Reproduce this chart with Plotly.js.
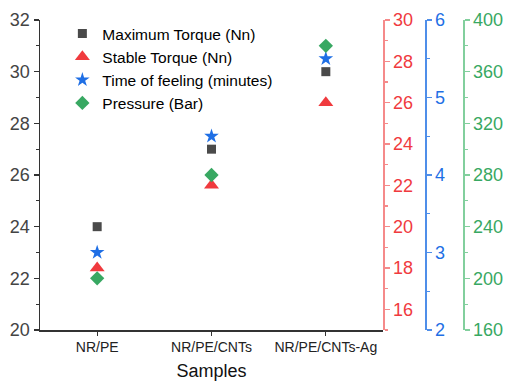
<!DOCTYPE html>
<html>
<head>
<meta charset="utf-8">
<script src="https://cdn.plot.ly/plotly-3.0.1.min.js"></script>
<style>html,body{margin:0;padding:0;background:#fff;}#chart{width:506px;height:381px;}</style>
</head>
<body>
<div id="chart"></div>
<script>
const categories = ["NR/PE", "NR/PE/CNTs", "NR/PE/CNTs-Ag"];
const maxTorque = [24, 27, 30];
const stableTorque = [18, 22, 26];
const timeOfFeeling = [3, 4.5, 5.5];
const pressure = [200, 280, 380];
const seriesNames = ["Maximum Torque (Nn)", "Stable Torque (Nn)", "Time of feeling (minutes)", "Pressure (Bar)"];

const cDark = "#4a4a4a", cRed = "#f03a3e", cBlue = "#1f6fe5", cGreen = "#38a862";
const FONT = "Liberation Sans, Arial, sans-serif";

const traces = [
  {x: categories, y: maxTorque, name: seriesNames[0], type: "scatter", mode: "markers",
   marker: {symbol: "square", size: 9, color: cDark}, yaxis: "y"},
  {x: categories, y: stableTorque, name: seriesNames[1], type: "scatter", mode: "markers",
   marker: {symbol: "triangle-up", size: 13, color: cRed}, yaxis: "y2"},
  {x: categories, y: timeOfFeeling, name: seriesNames[2], type: "scatter", mode: "markers",
   marker: {symbol: "star", size: 11, color: cBlue}, yaxis: "y3"},
  {x: categories, y: pressure, name: seriesNames[3], type: "scatter", mode: "markers",
   marker: {symbol: "diamond", size: 11, color: cGreen}, yaxis: "y4"}
];

const W = 466;
const dEnd = (383 - 40) / W;

const layout = {
  width: 506, height: 381,
  margin: {l: 40, r: 0, t: 20, b: 51},
  paper_bgcolor: "#fff", plot_bgcolor: "#fff",
  font: {family: FONT, color: "#000"},
  showlegend: true,
  legend: {x: 0.048, y: 1.01, xanchor: "left", yanchor: "top", bgcolor: "rgba(0,0,0,0)",
           font: {family: FONT, size: 15.5, color: "#000"}, tracegroupgap: 0},
  xaxis: {
    type: "category", domain: [0, dEnd], range: [-0.5, 2.5],
    showline: true, linecolor: "#333", linewidth: 1.5, mirror: false,
    ticks: "outside", ticklen: 4, tickcolor: "#333", tickwidth: 1.2,
    showgrid: false, zeroline: false,
    tickfont: {family: FONT, size: 14, color: "#222"},
    minor: {ticks: "outside", ticklen: 4, tickcolor: "#333", tickwidth: 1.2, tick0: -0.5, dtick: 1},
    title: {text: "Samples", font: {family: FONT, size: 18, color: "#111"}, standoff: 10}
  },
  yaxis: {
    range: [20, 32], dtick: 2, showline: true, linecolor: "#333", linewidth: 1.5,
    ticks: "outside", ticklen: 5, tickcolor: "#333", tickwidth: 1.2,
    minor: {ticks: "outside", ticklen: 3, dtick: 1, tickcolor: "#333"},
    showgrid: false, zeroline: false,
    tickfont: {family: FONT, size: 18, color: "#444"}
  },
  yaxis2: {
    overlaying: "y", side: "right", anchor: "free", position: dEnd,
    range: [15, 30], tickvals: [16, 18, 20, 22, 24, 26, 28, 30],
    showline: true, linecolor: "#f58a8a", linewidth: 1.5,
    ticks: "outside", ticklen: 5, tickcolor: "#f58a8a", tickwidth: 1.2,
    minor: {ticks: "outside", ticklen: 3, tick0: 15, dtick: 1, tickcolor: "#f58a8a"},
    showgrid: false, zeroline: false,
    tickfont: {family: FONT, size: 18, color: cRed}
  },
  yaxis3: {
    overlaying: "y", side: "right", anchor: "free", position: (425 - 40) / W,
    range: [2, 6], dtick: 1,
    showline: true, linecolor: "#4f8ee9", linewidth: 1.5,
    ticks: "outside", ticklen: 5, tickcolor: "#4f8ee9", tickwidth: 1.2,
    minor: {ticks: "outside", ticklen: 3, dtick: 0.5, tickcolor: "#4f8ee9"},
    showgrid: false, zeroline: false,
    tickfont: {family: FONT, size: 18, color: cBlue}
  },
  yaxis4: {
    overlaying: "y", side: "right", anchor: "free", position: (463 - 40) / W,
    range: [160, 400], dtick: 40,
    showline: true, linecolor: "#82cf9d", linewidth: 1.5,
    ticks: "outside", ticklen: 5, tickcolor: "#82cf9d", tickwidth: 1.2,
    minor: {ticks: "outside", ticklen: 3, dtick: 20, tickcolor: "#82cf9d"},
    showgrid: false, zeroline: false,
    tickfont: {family: FONT, size: 18, color: cGreen}
  }
};

Plotly.newPlot("chart", traces, layout, {displayModeBar: false, staticPlot: true});
</script>
</body>
</html>
